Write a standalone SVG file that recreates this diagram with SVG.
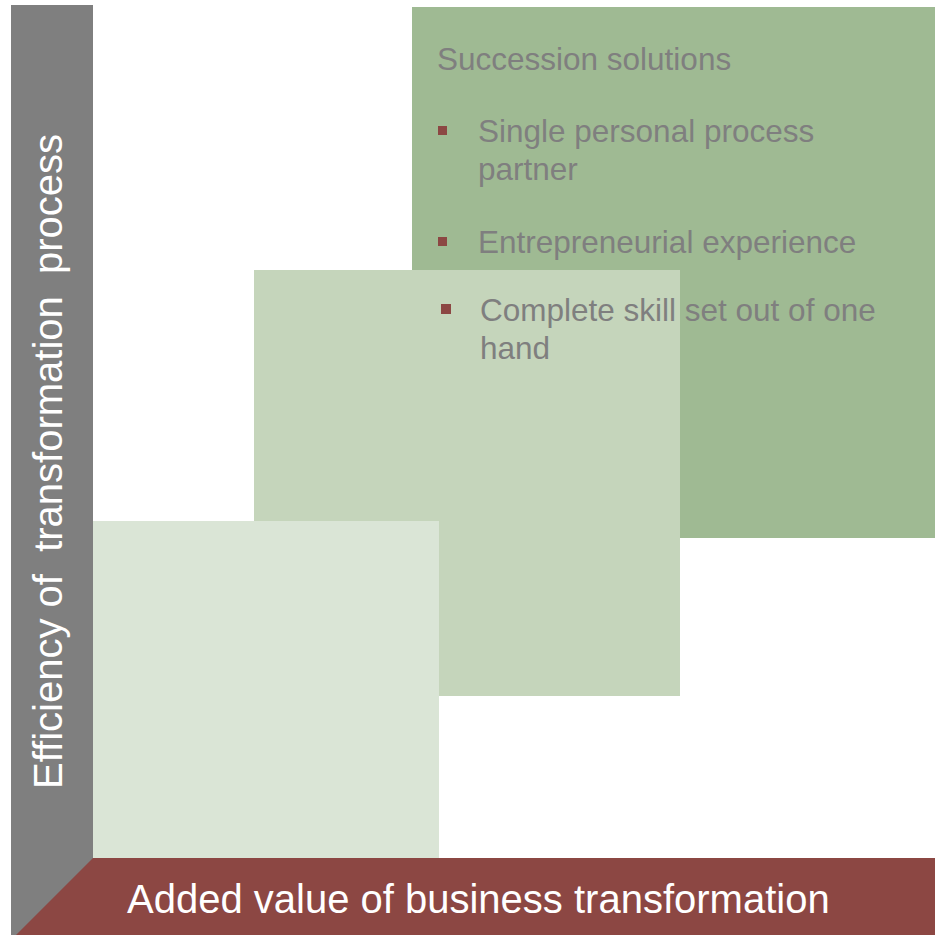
<svg xmlns="http://www.w3.org/2000/svg" width="935" height="935" viewBox="0 0 935 935">
<style>
.t{font-family:"Liberation Sans",Arial,sans-serif;}
.g{fill:#7F7F7F;font-size:31.5px;}
.w{fill:#FFFFFF;font-size:40px;}
.b{fill:#8C4743;}
</style>
<rect width="935" height="935" fill="#FFFFFF"/>
<g id="box-succession">
<rect x="412" y="7" width="523" height="531" fill="#9FBA93"/>
</g>
<g id="box-middle">
<rect x="254" y="270" width="426" height="426" fill="#C5D5BB"/>
</g>
<g id="box-low">
<rect x="93" y="521" width="346" height="337" fill="#DAE5D6"/>
</g>
<g id="axis-y">
<rect x="11" y="5" width="82" height="930" fill="#7F7F7F"/>
<text class="t w" transform="translate(62,789) rotate(-90)" xml:space="preserve">Efficiency of  transformation  process</text>
</g>
<g id="axis-x">
<polygon points="93,858 935,858 935,935 16,935" fill="#8C4743"/>
<text class="t w" x="127" y="913">Added value of business transformation</text>
</g>
<g id="succession-text">
<text class="t g" x="437" y="70">Succession solutions</text>
<rect class="b" x="438" y="126" width="9" height="9"/>
<text class="t g" x="478" y="142">Single personal process</text>
<text class="t g" x="478" y="180">partner</text>
<rect class="b" x="438" y="237" width="9" height="9"/>
<text class="t g" x="478" y="253">Entrepreneurial experience</text>
<rect class="b" x="441" y="304" width="10" height="10"/>
<text class="t g" x="480" y="321">Complete skill set out of one</text>
<text class="t g" x="480" y="359">hand</text>
</g>
<g id="connectors"></g>
</svg>
